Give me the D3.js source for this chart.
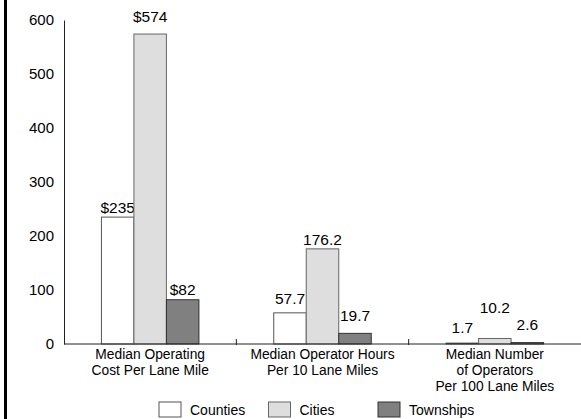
<!DOCTYPE html>
<html>
<head>
<meta charset="utf-8">
<script src="https://cdn.jsdelivr.net/npm/d3@7"></script>
<style>
  body { margin: 0; background: #fff; }
  text { font-family: Arial, "Liberation Sans", sans-serif; fill: #000; }
</style>
</head>
<body>
<div id="chart-container"></div>
<script>
// data
const categories = [
  ["Median Operating", "Cost Per Lane Mile"],
  ["Median Operator Hours", "Per 10 Lane Miles"],
  ["Median Number", "of Operators", "Per 100 Lane Miles"]
];
const seriesNames = ["Counties", "Cities", "Townships"];
const counties = [235, 57.7, 1.7];
const cities = [574, 176.2, 10.2];
const townships = [82, 19.7, 2.6];
const valueLabels = [
  ["$235", "57.7", "1.7"],
  ["$574", "176.2", "10.2"],
  ["$82", "19.7", "2.6"]
];
const yTicks = [0, 100, 200, 300, 400, 500, 600];

const seriesFill = ["#ffffff", "#dedede", "#808080"];
const seriesStroke = ["#555555", "#666666", "#333333"];

let svgWidth = 581;
let svgHeight = 419;

let svg = d3.select('#chart-container')
  .append('svg')
  .attr('width', svgWidth)
  .attr('height', svgHeight);

// left black edge
svg.append("rect")
  .attr("x", 4)
  .attr("y", 0)
  .attr("width", 3)
  .attr("height", svgHeight)
  .attr("fill", "#000");

let plotLeft = 64, plotRight = 581, plotTop = 20, plotBottom = 344;

let xScale = d3.scaleBand()
  .domain(d3.range(categories.length))
  .range([plotLeft, plotRight]);

let yScale = d3.scaleLinear()
  .domain([0, 600])
  .range([plotBottom, plotTop]);

let inner = d3.scaleBand()
  .domain(d3.range(seriesNames.length))
  .range([0, 97.5]);

let series = [counties, cities, townships];

// gap between label and bar top, the original labels sit a bit staggered
let labelGap = [[4, 9, 10], [12, 4, 25], [5, 12, 13]];

// y axis
let yAxis = d3.axisLeft(yScale)
  .tickValues(yTicks)
  .tickSize(0)
  .tickPadding(10);

let gy = svg.append("g")
  .attr("transform", "translate(" + plotLeft + ",0)")
  .call(yAxis);
gy.select(".domain").attr("stroke", "#222");
gy.selectAll(".tick text")
  .style("font-size", "15px")
  .style("font-family", "Arial, 'Liberation Sans', sans-serif")
  .attr("fill", "#000");

// bars
series.forEach((vals, s) => {
  let g = svg.append("g");
  g.selectAll("rect")
    .data(vals)
    .enter()
    .append("rect")
    .attr("x", (d, i) => xScale(i) + xScale.bandwidth() / 2 - 48.75 + inner(s))
    .attr("y", d => yScale(d))
    .attr("width", inner.bandwidth())
    .attr("height", d => yScale(0) - yScale(d))
    .attr("fill", seriesFill[s])
    .attr("stroke", seriesStroke[s])
    .attr("stroke-width", 1);

  g.selectAll("text")
    .data(vals)
    .enter()
    .append("text")
    .attr("x", (d, i) => xScale(i) + xScale.bandwidth() / 2 - 48.75 + inner(s) + inner.bandwidth() / 2)
    .attr("y", (d, i) => yScale(d) - labelGap[s][i])
    .attr("text-anchor", "middle")
    .style("font-size", "15.5px")
    .text((d, i) => valueLabels[s][i]);
});

// x axis
let xAxisLine = svg.append("g");
xAxisLine.append("line")
  .attr("x1", plotLeft).attr("x2", plotRight)
  .attr("y1", plotBottom).attr("y2", plotBottom)
  .attr("stroke", "#222");
xAxisLine.selectAll("line.tick")
  .data(d3.range(1, categories.length))
  .enter()
  .append("line")
  .attr("class", "tick")
  .attr("x1", i => xScale(i)).attr("x2", i => xScale(i))
  .attr("y1", plotBottom - 5).attr("y2", plotBottom + 1)
  .attr("stroke", "#222");

// category labels
categories.forEach((lines, i) => {
  let t = svg.append("text")
    .attr("text-anchor", "middle")
    .style("font-size", "13.8px");
  lines.forEach((ln, k) => {
    t.append("tspan")
      .attr("x", xScale(i) + xScale.bandwidth() / 2)
      .attr("y", 359 + k * 16)
      .text(ln);
  });
});

// legend
let legend = svg.append("g")
  .attr("transform", "translate(159, 402)");
let item = legend.selectAll("g")
  .data(seriesNames)
  .enter()
  .append("g")
  .attr("transform", (d, i) => "translate(" + (i * 109.5) + ",0)");
item.append("rect")
  .attr("width", 22)
  .attr("height", 15)
  .attr("fill", (d, i) => seriesFill[i])
  .attr("stroke", (d, i) => seriesStroke[i]);
item.append("text")
  .attr("x", 31)
  .attr("y", 13)
  .style("font-size", "14px")
  .text(d => d);
</script>
</body>
</html>
